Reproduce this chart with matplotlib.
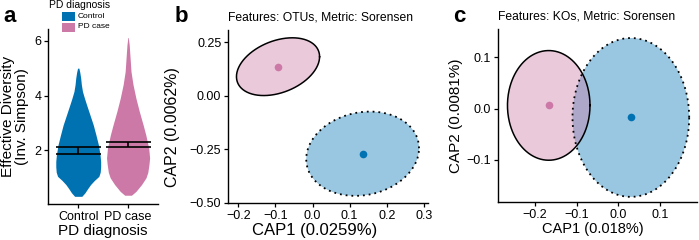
import numpy as np
import matplotlib
matplotlib.use("Agg")
import matplotlib.pyplot as plt
from matplotlib.patches import Rectangle

plt.rcParams['font.family'] = ['Liberation Sans', 'DejaVu Sans']

# ---------------- data ----------------
groups = ["Control", "PD case"]
colors = ["#0072B2", "#CC79A7"]

# panel a: violin profiles (value grid and relative half-width)
ctrl_y = [0.32, 0.45, 0.6, 0.75, 0.9, 1.05, 1.2, 1.4, 1.6, 1.85, 2.2, 2.56, 2.93,
          3.3, 3.67, 3.9, 4.15, 4.4, 4.64, 4.85, 5.0]
ctrl_w = [0.16, 0.30, 0.42, 0.55, 0.72, 0.92, 0.98, 1.0, 1.0, 0.97, 0.90, 0.79, 0.67,
          0.52, 0.37, 0.28, 0.19, 0.14, 0.11, 0.07, 0.03]
pd_y = [0.36, 0.5, 0.75, 1.0, 1.2, 1.48, 1.72, 2.08, 2.56, 2.93, 3.42, 3.9, 4.4,
        4.88, 5.37, 5.85, 6.12]
pd_w = [0.15, 0.35, 0.60, 0.80, 0.88, 0.93, 0.96, 0.92, 0.79, 0.67, 0.50, 0.35, 0.22,
        0.13, 0.09, 0.05, 0.01]
div_mean = [2.00, 2.21]
div_se = [0.12, 0.10]

# panel b: OTUs, Sorensen
b_pts_x = [0.135, -0.094]
b_pts_y = [-0.272, 0.136]
b_ell_cx = [0.135, -0.093]
b_ell_cy = [-0.271, 0.136]
b_ell_hx = [0.152, 0.112]
b_ell_hy = [0.197, 0.135]
b_ell_r = [0.13, 0.345]
b_xticks = [-0.2, -0.1, 0.0, 0.1, 0.2, 0.3]
b_yticks = [0.25, 0.0, -0.25, -0.50]
b_yticklabels = ["0.25", "0.00", "\u22120.25", "\u22120.50"]

# panel c: KOs, Sorensen
c_pts_x = [0.030, -0.167]
c_pts_y = [-0.017, 0.0065]
c_ell_cx = [0.030, -0.167]
c_ell_cy = [-0.017, 0.0065]
c_ell_hx = [0.140, 0.099]
c_ell_hy = [0.155, 0.107]
c_ell_r = [0.0, 0.0]
c_xticks = [-0.2, -0.1, 0.0, 0.1]
c_yticks = [0.1, 0.0, -0.1]

# ---------------- figure ----------------
W, H = 699, 240
fig = plt.figure(figsize=(W / 100, H / 100), dpi=100)

def px_axes(l, t, r, b):
    return fig.add_axes([l / W, 1 - b / H, (r - l) / W, (b - t) / H])

TICK_FS = 9
LAB_FS = 11

def style(ax):
    for s in ["top", "right"]:
        ax.spines[s].set_visible(False)
    for s in ["left", "bottom"]:
        ax.spines[s].set_linewidth(1.0)
        ax.spines[s].set_color("black")
    ax.tick_params(direction="out", length=3, width=0.9, colors="black",
                   labelsize=TICK_FS, pad=2)

# ----- panel a -----
axa = px_axes(48.3, 29, 158, 204)
style(axa)
half = 0.45
for i, (yy, ww) in enumerate([(ctrl_y, ctrl_w), (pd_y, pd_w)]):
    yy = np.array(yy); ww = np.array(ww) * half
    axa.fill_betweenx(yy, i - ww, i + ww, color=colors[i], lw=0, zorder=1)
    m, s = div_mean[i], div_se[i]
    axa.vlines(i, m - s, m + s, color="black", lw=1.2, zorder=3)
    axa.hlines([m - s, m + s], i - half, i + half, color="black", lw=1.2, zorder=3)
axa.set_xlim(-0.6, 1.6)
axa.set_ylim(0.04, 6.43)
axa.set_xticks([0, 1])
axa.set_xticklabels(groups)
axa.set_yticks([2, 4, 6])
axa.set_xlabel("PD diagnosis", fontsize=LAB_FS, labelpad=1)
axa.set_ylabel("Effective Diversity\n(Inv. Simpson)", fontsize=LAB_FS,
               labelpad=4, linespacing=0.95)

# legend (panel a)
fig.text(49 / W, 1 - 5.5 / H, "PD diagnosis", fontsize=7.5, va="center", ha="left")
for i, g in enumerate(groups):
    ytop = 12 + i * 10.5
    fig.add_artist(Rectangle((62 / W, 1 - (ytop + 9) / H), 13 / W, 9 / H,
                             transform=fig.transFigure, color=colors[i], lw=0))
    fig.text(78 / W, 1 - (ytop + 4.5) / H, g, fontsize=6, va="center", ha="left")

# ----- ellipse helper -----
t = np.linspace(0, 2 * np.pi, 300)

def ellipse_xy(cx, cy, hx, hy, r):
    C = np.array([[hx * hx, r * hx * hy], [r * hx * hy, hy * hy]])
    L = np.linalg.cholesky(C)
    pts = L @ np.vstack([np.cos(t), np.sin(t)])
    return cx + pts[0], cy + pts[1]

def cap_panel(ax, px, py, ecx, ecy, ehx, ehy, er):
    style(ax)
    for i in range(2):
        ex, ey = ellipse_xy(ecx[i], ecy[i], ehx[i], ehy[i], er[i])
        ax.fill(ex, ey, color=colors[i], alpha=0.4, lw=0, zorder=2)
        ls = (0, (1, 2.2)) if i == 0 else "-"
        ax.plot(ex, ey, color="black", lw=1.3 if i == 0 else 1.1, ls=ls, zorder=3)
    for i in range(2):
        ax.plot(px[i], py[i], "o", color=colors[i], ms=5.5, mec="none", zorder=4)

# ----- panel b -----
axb = px_axes(228.3, 30, 428.3, 202.7)
cap_panel(axb, b_pts_x, b_pts_y, b_ell_cx, b_ell_cy, b_ell_hx, b_ell_hy, b_ell_r)
axb.set_xlim(-0.227, 0.312)
axb.set_ylim(-0.5, 0.3075)
axb.set_xticks(b_xticks)
axb.set_xticklabels([f"{v:.1f}".replace("-", "\u2212") for v in b_xticks])
axb.set_yticks(b_yticks)
axb.set_yticklabels(b_yticklabels)
axb.set_xlabel("CAP1 (0.0259%)", fontsize=12)
axb.xaxis.set_label_coords(0.43, -0.115)
axb.set_ylabel("CAP2 (0.0062%)", fontsize=11.5)
axb.yaxis.set_label_coords(-0.24, 0.44)
axb.set_title("Features: OTUs, Metric: Sorensen", loc="left", fontsize=8.7, pad=7)

# ----- panel c -----
axc = px_axes(498.3, 29.3, 696.7, 202)
cap_panel(axc, c_pts_x, c_pts_y, c_ell_cx, c_ell_cy, c_ell_hx, c_ell_hy, c_ell_r)
axc.set_xlim(-0.288, 0.188)
axc.set_ylim(-0.182, 0.155)
axc.set_xticks(c_xticks)
axc.set_xticklabels([f"{v:.1f}".replace("-", "\u2212") for v in c_xticks])
axc.set_yticks(c_yticks)
axc.set_yticklabels([f"{v:.1f}".replace("-", "\u2212") for v in c_yticks])
axc.set_xlabel("CAP1 (0.018%)", fontsize=10.5)
axc.xaxis.set_label_coords(0.475, -0.115)
axc.set_ylabel("CAP2 (0.0081%)", fontsize=11, labelpad=3)
axc.set_title("Features: KOs, Metric: Sorensen", loc="left", fontsize=8.7, pad=7)

# panel letters
for lab, x in [("a", 3), ("b", 175), ("c", 453)]:
    fig.text(x / W, 1 - 21.7 / H, lab, fontsize=16, fontweight="bold",
             va="baseline", ha="left")

fig.savefig("out.png", dpi=100)
